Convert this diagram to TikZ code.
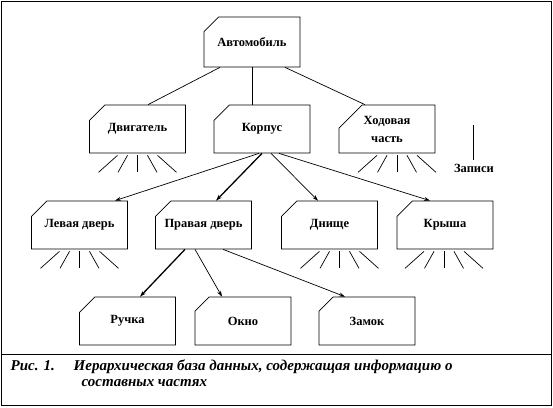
\documentclass[tikz,border=0pt]{standalone}
\usepackage{fontspec}
\setmainfont{Liberation Serif}
\usetikzlibrary{shapes.misc,arrows.meta}
\begin{document}
\begin{tikzpicture}[x=1pt, y=-1pt, line width=0.7pt, >={Stealth[length=6pt,width=4pt]},
  blok/.style={chamfered rectangle, chamfered rectangle corners=north west,
    chamfered rectangle xsep=20pt, chamfered rectangle ysep=10pt, draw,
    inner sep=0pt, minimum width=96pt, minimum height=48pt, align=center,
    font=\fontsize{12.5}{18}\selectfont\bfseries},
  svyaz/.style={->},
  glavn/.style={->, line width=1.3pt},
  podpis/.style={anchor=base west, font=\fontsize{15}{17}\selectfont\bfseries\itshape}]
  \useasboundingbox (0,0) rectangle (553,407);
  % Frame and caption line
  \draw (1.5,1.5) rectangle (551.5,405.5);
  \draw (1.5,354) -- (551.5,354);
  % Levels of the hierarchy
  \node[blok, minimum height=50pt] (avto) at (252,42) {Автомобиль};
  \node[blok] (dvig) at (137.5,129) {Двигатель};
  \node[blok] (korp) at (262,129) {Корпус};
  \node[blok] (hod) at (387,129) {Ходовая\\часть};
  \node[blok] (lev) at (79.5,225) {Левая дверь};
  \node[blok] (prav) at (203.5,225) {Правая дверь};
  \node[blok] (dnis) at (329.5,225) {Днище};
  \node[blok] (krys) at (445,225) {Крыша};
  \node[blok] (ruch) at (127.5,321) {Ручка};
  \node[blok] (okno) at (243,321) {Окно};
  \node[blok] (zamok) at (367,321) {Замок};
  % Top level links
  \draw ([xshift=-32pt]avto.south) -- ([xshift=10.5pt]dvig.north);
  \draw (avto.south) -- ([xshift=-10pt]korp.north);
  \draw ([xshift=33pt]avto.south) -- ([xshift=-22pt]hod.north);
  % Body parts
  \draw[svyaz] ([xshift=-3pt]korp.south) -- ([xshift=35.5pt]lev.north);
  \draw[glavn] (korp.south) -- ([xshift=12.5pt]prav.north);
  \draw[svyaz] ([xshift=9pt]korp.south) -- ([xshift=-11.5pt]dnis.north);
  \draw[svyaz] ([xshift=17pt]korp.south) -- ([xshift=-15pt]krys.north);
  % Door parts
  \draw[glavn] ([xshift=-18.5pt]prav.south) -- ([xshift=12.5pt]ruch.north);
  \draw[svyaz] ([xshift=-8.5pt]prav.south) -- ([xshift=-21pt]okno.north);
  \draw[svyaz] ([xshift=19.5pt]prav.south) -- ([xshift=-22pt]zamok.north);
  % Records below the boxes
  \foreach \n/\o in {dvig/0, hod/10, lev/0, dnis/10, krys/-1}
    \foreach \i in {-2,...,2}
      \draw ([shift={(\o+\i*10,2)}]\n.south) -- ([shift={(\o+\i*19.5,19)}]\n.south);
  \node[font=\fontsize{12.5}{14}\selectfont\bfseries] (zap) at (474,168) {Записи};
  \coordinate (zapverh) at (473,125);
  \draw (zapverh) -- (zapverh |- zap.north);
  % Caption
  \node[podpis] (ris) at (7,370) {Рис. 1.};
  \node[podpis] (podp) at (70,370) {Иерархическая база данных, содержащая информацию о};
  \node[podpis] (podp2) at (78,386) {составных частях};
\end{tikzpicture}
\end{document}
